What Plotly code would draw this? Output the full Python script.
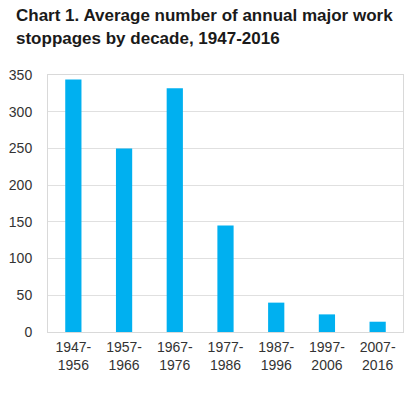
import plotly.graph_objects as go

categories = ["1947-<br>1956", "1957-<br>1966", "1967-<br>1976", "1977-<br>1986",
              "1987-<br>1996", "1997-<br>2006", "2007-<br>2016"]
values = [344, 250, 332, 145, 40, 24, 14]
y_ticks = [0, 50, 100, 150, 200, 250, 300, 350]
title_lines = ["Chart 1. Average number of annual major work",
               "stoppages by decade, 1947-2016"]

W, H = 419, 397
ML, MR, MT, MB = 48, 16, 75, 65
PW, PH = W - ML - MR, H - MT - MB

fig = go.Figure(go.Bar(x=categories, y=values, marker=dict(color="#00B0F0", line=dict(width=0))))

title_centers = [16, 38]  # px from figure top
annotations = [
    dict(text="<b>" + line + "</b>",
         x=(14 - ML) / PW, xanchor="left", xref="paper",
         y=1 + (MT - cy) / PH, yanchor="middle", yref="paper",
         align="left", showarrow=False,
         font=dict(size=17, color="#1a1a1a", family="Liberation Sans, Arial, sans-serif"))
    for line, cy in zip(title_lines, title_centers)
]

fig.update_layout(
    width=W, height=H,
    margin=dict(l=ML, r=MR, t=MT, b=MB, autoexpand=False),
    paper_bgcolor="white", plot_bgcolor="white",
    bargap=0.68,
    showlegend=False,
    font=dict(family="Liberation Sans, Arial, sans-serif", color="#333333"),
    annotations=annotations,
)
fig.update_xaxes(
    showline=True, linecolor="#d9d9d9", linewidth=1, mirror=True,
    ticks="", ticklabelstandoff=2, tickfont=dict(size=14, color="#333333"),
    fixedrange=True, automargin=False,
)
fig.update_yaxes(
    range=[0, 350], tickvals=y_ticks,
    showgrid=True, gridcolor="#e0e0e0", gridwidth=1,
    showline=True, linecolor="#d9d9d9", linewidth=1, mirror=True,
    zeroline=False, ticks="", ticklabelstandoff=12,
    tickfont=dict(size=14, color="#333333"),
    fixedrange=True, automargin=False,
)

fig.write_html("out.html", config={"displayModeBar": False},
               post_script="document.body.style.margin='0';")
